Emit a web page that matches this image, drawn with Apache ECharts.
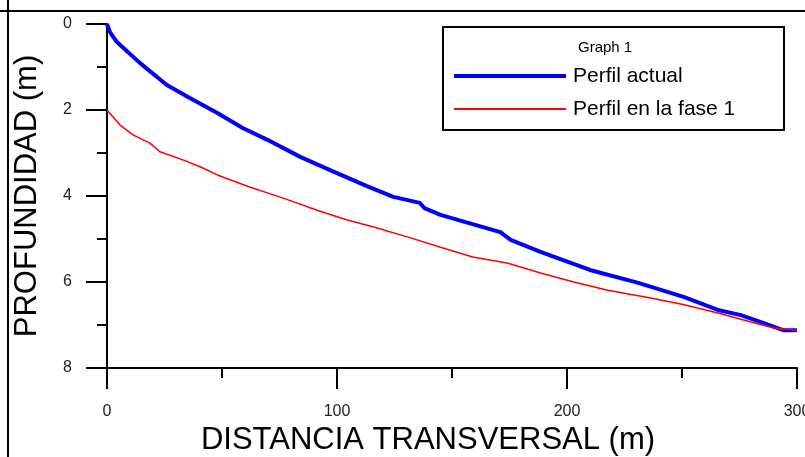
<!DOCTYPE html>
<html>
<head>
<meta charset="utf-8">
<script src="https://cdn.jsdelivr.net/npm/echarts@6/dist/echarts.min.js"></script>
<style>
html,body{margin:0;padding:0;background:#fff;}
#chart{width:805px;height:457px;}
</style>
</head>
<body>
<div id="chart"></div>
<script>
// Data
var seriesNames = ['Perfil actual', 'Perfil en la fase 1'];
var legendTitle = 'Graph 1';
var xTickLabels = ['0', '100', '200', '300'];
var yTickLabels = ['0', '2', '4', '6', '8'];

var actualX = [0, 1.3, 4.3, 14.4, 26, 36, 48, 59, 70, 84, 98, 113, 124.5, 136, 138, 145, 171, 175.5, 188.5, 210, 231, 251, 265.6, 275.6, 284, 294, 300];
var actualY = [0, 0.19, 0.42, 0.91, 1.42, 1.72, 2.07, 2.42, 2.70, 3.09, 3.42, 3.77, 4.02, 4.16, 4.28, 4.44, 4.84, 5.02, 5.30, 5.72, 6.02, 6.35, 6.65, 6.77, 6.93, 7.12, 7.12];

var fase1X = [0, 0.4, 5.7, 11.3, 18.7, 23, 33, 40.5, 48, 62, 76.6, 91.4, 104.5, 116, 130.6, 145, 159, 174, 188.5, 203, 217.7, 236.4, 251, 265.6, 280, 290, 300];
var fase1Y = [2.0, 2.04, 2.35, 2.58, 2.77, 2.97, 3.16, 3.32, 3.51, 3.79, 4.05, 4.33, 4.56, 4.72, 4.95, 5.19, 5.42, 5.56, 5.79, 6.00, 6.19, 6.37, 6.53, 6.72, 6.93, 7.07, 7.12];

function pairs(xs, ys) { return xs.map(function (x, i) { return [x, ys[i]]; }); }

var FONT = '"Liberation Sans", Arial, sans-serif';
var chart = echarts.init(document.getElementById('chart'), null, {renderer: 'canvas'});

var axisCommon = {
  axisLine: {show: true, onZero: false, lineStyle: {color: '#000', width: 2}},
  axisTick: {show: true, inside: false, length: 21, lineStyle: {color: '#000', width: 2}},
  minorTick: {show: true, splitNumber: 2, length: 10, lineStyle: {color: '#000', width: 2}},
  splitLine: {show: false},
  minorSplitLine: {show: false}
};

function legendFor(i, top, iconPath) {
  return {
    orient: 'horizontal', left: 454, top: top, itemWidth: 112, itemHeight: 4, padding: 0,
    itemGap: 0,
    textStyle: {fontSize: 21, lineHeight: 24, color: '#000', fontFamily: FONT, padding: [0, 0, 0, 2]},
    data: [{name: seriesNames[i], icon: iconPath}]
  };
}

chart.setOption({
  animation: false,
  backgroundColor: '#fff',
  grid: {left: 107, right: 8, top: 24, bottom: 89, containLabel: false, outerBoundsMode: 'none'},
  xAxis: Object.assign({
    type: 'value', min: 0, max: 300, interval: 100,
    axisLabel: {margin: 36, color: '#222', fontSize: 16, fontFamily: FONT, hideOverlap: false,
      formatter: function (v) { return xTickLabels[Math.round(v / 100)]; }},
    name: 'DISTANCIA TRANSVERSAL (m)', nameLocation: 'middle', nameGap: 54,
    nameTextStyle: {fontSize: 31, color: '#000', fontFamily: FONT, padding: [0, 48, 0, 0]}
  }, axisCommon),
  yAxis: Object.assign({
    type: 'value', min: 0, max: 8, interval: 2, inverse: true,
    axisLabel: {margin: 35, color: '#222', fontSize: 16, fontFamily: FONT,
      formatter: function (v) { return yTickLabels[Math.round(v / 2)]; }},
    name: 'PROFUNDIDAD (m)', nameLocation: 'middle', nameGap: 64, nameRotate: 90,
    nameTextStyle: {fontSize: 31, color: '#000', fontFamily: FONT}
  }, axisCommon),
  legend: [
    legendFor(0, 64, 'path://M0 0H112V4H0Z'),
    legendFor(1, 97, 'path://M0 0H112V2H0Z')
  ],
  graphic: [
    {type: 'line', shape: {x1: 8, y1: 0, x2: 8, y2: 457}, style: {stroke: '#000', lineWidth: 2}},
    {type: 'line', shape: {x1: 0, y1: 11, x2: 805, y2: 11}, style: {stroke: '#000', lineWidth: 2}},
    {type: 'rect', shape: {x: 443, y: 27, width: 341, height: 103}, style: {fill: 'none', stroke: '#000', lineWidth: 2}, z: 10},
    {type: 'text', left: 578, top: 40, style: {text: legendTitle, fontSize: 15, fontFamily: FONT, fill: '#000'}, z: 10}
  ],
  series: [
    {name: seriesNames[0], type: 'line', data: pairs(actualX, actualY), showSymbol: false, symbol: 'none',
      lineStyle: {color: '#0000ff', width: 4}, itemStyle: {color: '#0000ff'}, z: 3},
    {name: seriesNames[1], type: 'line', data: pairs(fase1X, fase1Y), showSymbol: false, symbol: 'none',
      lineStyle: {color: '#ff0000', width: 1.5}, itemStyle: {color: '#ff0000'}, z: 4}
  ]
});
</script>
</body>
</html>
